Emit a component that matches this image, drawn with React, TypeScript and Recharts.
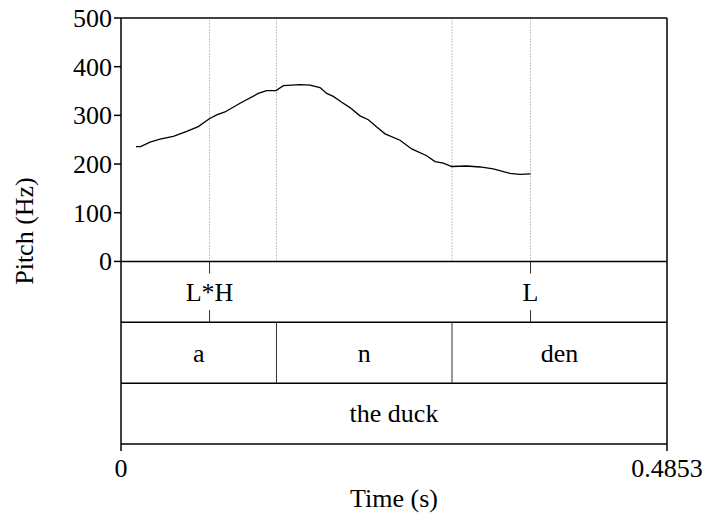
import React from "react";
import {
  Line,
  LineChart,
  ReferenceArea,
  ReferenceDot,
  ReferenceLine,
  XAxis,
  YAxis,
} from "recharts";

// pitch track (s, Hz)
const pitchTimes = [
  0.0133, 0.0175, 0.0258, 0.0347, 0.0465, 0.0584, 0.0687, 0.0785, 0.0851, 0.0924,
  0.1058, 0.122, 0.1295, 0.1378, 0.1443, 0.1591, 0.168, 0.1769, 0.1828, 0.1887,
  0.1962, 0.2035, 0.2124, 0.2198, 0.2273, 0.2347, 0.248, 0.2584, 0.2717, 0.2791,
  0.2865, 0.2939, 0.3073, 0.3191, 0.3309, 0.3457, 0.3546, 0.3641,
];
const pitchValues = [
  236, 236, 245, 251, 257, 267, 277, 293, 301, 307,
  325, 345, 351, 351, 361, 363, 362, 357, 345, 339,
  327, 316, 299, 291, 276, 262, 249, 231, 217, 205,
  202, 195, 196, 194, 190, 181, 179, 180,
];

// tier 1: tones (points)
const toneLabels = ["L*H", "L"];
const toneTimes = [0.0787, 0.364];

// tier 2: syllables (intervals)
const syllableLabels = ["a", "n", "den"];
const syllableBounds = [0, 0.1382, 0.2942, 0.4853];

// tier 3: words
const wordLabels = ["the duck"];
const wordBounds = [0, 0.4853];

const xTicks = [0, 0.4853];
const yTicks = [0, 100, 200, 300, 400, 500];

const END = 0.4853;
const FONT = "'Liberation Serif', 'Times New Roman', serif";
const FS = 26;
const TIER = 125; // each tier takes 125 Hz worth of height below 0

const data = pitchTimes.map((t, i) => ({ t, hz: pitchValues[i] }));

const textStyle = { fontFamily: FONT, fontSize: FS, fill: "#000" };

function XTick(props: any) {
  const { x, y, payload } = props;
  return (
    <text x={x} y={y} dy="0.68em" textAnchor="middle" style={textStyle}>
      {payload.value}
    </text>
  );
}

function YTick(props: any) {
  const { x, y, payload } = props;
  return (
    <text x={x} y={y} dy="0.34em" textAnchor="end" style={textStyle}>
      {payload.value}
    </text>
  );
}

function CenterText(props: any) {
  const vb = props.viewBox;
  return (
    <text
      x={vb.x + vb.width / 2}
      y={vb.y + vb.height / 2}
      dy="0.34em"
      textAnchor="middle"
      style={textStyle}
    >
      {props.text}
    </text>
  );
}

function YLabel(props: any) {
  const vb = props.viewBox;
  const cx = 33;
  const cy = vb.y + vb.height / 2;
  return (
    <text x={cx} y={cy} textAnchor="middle" transform={`rotate(-90 ${cx} ${cy})`} style={textStyle}>
      Pitch (Hz)
    </text>
  );
}

function XLabel(props: any) {
  const vb = props.viewBox;
  return (
    <text x={vb.x + vb.width / 2} y={507} textAnchor="middle" style={textStyle}>
      Time (s)
    </text>
  );
}

export default function App() {
  const tierTop = (k: number) => -TIER * k;
  const tierMid = (k: number) => -TIER * k - TIER / 2;

  return (
    <div style={{ position: "absolute", left: 0, top: 0 }}>
      <LineChart
        width={704}
        height={516}
        data={data}
        margin={{ top: 18, right: 37, left: 21, bottom: 6 }}
      >
        <XAxis
          dataKey="t"
          type="number"
          domain={[0, END]}
          ticks={xTicks}
          interval={0}
          tickSize={7}
          tickMargin={8}
          height={66}
          axisLine={{ stroke: "#000", strokeWidth: 1.5 }}
          tickLine={{ stroke: "#000", strokeWidth: 1.5 }}
          tick={<XTick />}
          label={<XLabel />}
        />
        <YAxis
          type="number"
          domain={[-TIER * 3, 500]}
          ticks={yTicks}
          interval={0}
          width={100}
          tickSize={7}
          tickMargin={2}
          axisLine={{ stroke: "#000", strokeWidth: 1.5 }}
          tickLine={{ stroke: "#000", strokeWidth: 1.5 }}
          tick={<YTick />}
          label={<YLabel />}
        />

        {/* dotted boundary lines in pitch area */}
        {[...toneTimes, ...syllableBounds.slice(1, -1)].map((t) => (
          <ReferenceLine
            key={"d" + t}
            segment={[{ x: t, y: 0 }, { x: t, y: 500 }]}
            stroke="#888"
            strokeWidth={1}
            strokeDasharray="1 2"
          />
        ))}

        {/* frame */}
        <ReferenceLine y={500} stroke="#000" strokeWidth={1.5} />
        <ReferenceLine x={END} stroke="#000" strokeWidth={1.5} />
        <ReferenceLine y={tierTop(0)} stroke="#000" strokeWidth={1.5} />
        <ReferenceLine y={tierTop(1)} stroke="#000" strokeWidth={1.5} />
        <ReferenceLine y={tierTop(2)} stroke="#000" strokeWidth={1.5} />

        {/* tone tier */}
        {toneTimes.map((t) => (
          <ReferenceLine
            key={"ta" + t}
            segment={[{ x: t, y: tierTop(0) }, { x: t, y: tierTop(0) - 25 }]}
            stroke="#333"
            strokeWidth={1}
          />
        ))}
        {toneTimes.map((t) => (
          <ReferenceLine
            key={"tb" + t}
            segment={[{ x: t, y: tierTop(1) + 25 }, { x: t, y: tierTop(1) }]}
            stroke="#333"
            strokeWidth={1}
          />
        ))}
        {toneTimes.map((t, i) => (
          <ReferenceDot
            key={"tl" + t}
            x={t}
            y={tierMid(0)}
            r={0}
            fill="none"
            stroke="none"
            label={<CenterText text={toneLabels[i]} />}
          />
        ))}

        {/* syllable tier */}
        {syllableBounds.slice(1, -1).map((t) => (
          <ReferenceLine
            key={"sb" + t}
            segment={[{ x: t, y: tierTop(1) }, { x: t, y: tierTop(2) }]}
            stroke="#333"
            strokeWidth={1}
          />
        ))}
        {syllableLabels.map((s, i) => (
          <ReferenceArea
            key={"s" + s}
            x1={syllableBounds[i]}
            x2={syllableBounds[i + 1]}
            y1={tierTop(2)}
            y2={tierTop(1)}
            fill="none"
            stroke="none"
            label={<CenterText text={s} />}
          />
        ))}

        {/* word tier */}
        {wordLabels.map((w, i) => (
          <ReferenceArea
            key={"w" + w}
            x1={wordBounds[i]}
            x2={wordBounds[i + 1]}
            y1={tierTop(3)}
            y2={tierTop(2)}
            fill="none"
            stroke="none"
            label={<CenterText text={w} />}
          />
        ))}

        <Line
          dataKey="hz"
          type="linear"
          stroke="#000"
          strokeWidth={1.3}
          dot={false}
          isAnimationActive={false}
        />
      </LineChart>
    </div>
  );
}
